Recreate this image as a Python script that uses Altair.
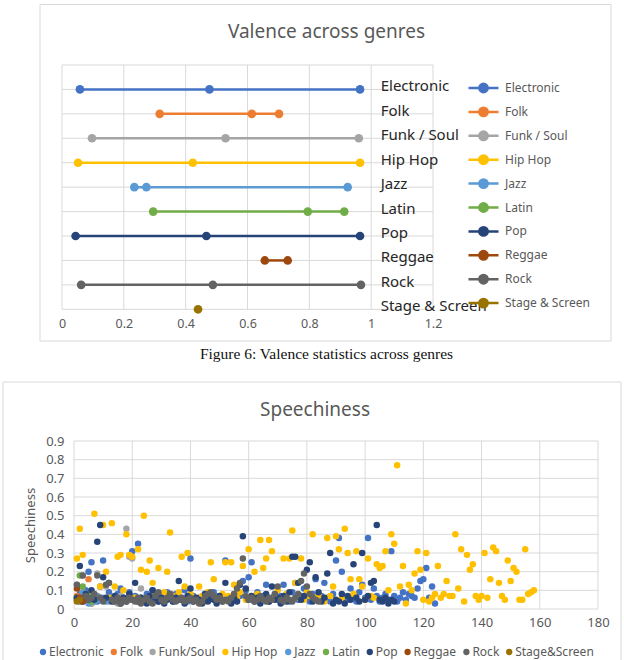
import altair as alt
import pandas as pd

# ---------------- data: valence chart ----------------
genres_top = ["Electronic", "Folk", "Funk / Soul", "Hip Hop", "Jazz", "Latin",
              "Pop", "Reggae", "Rock", "Stage & Screen"]
genres_bottom = ["Electronic", "Folk", "Funk/Soul", "Hip Hop", "Jazz", "Latin",
                 "Pop", "Reggae", "Rock", "Stage&Screen"]
genre_colors = ["#4472C4", "#ED7D31", "#A5A5A5", "#FFC000", "#5B9BD5",
                "#70AD47", "#264478", "#9E480E", "#636363", "#997300"]

val_electronic = [0.058, 0.477, 0.964]
val_folk = [0.316, 0.614, 0.702]
val_funk_soul = [0.097, 0.529, 0.960]
val_hip_hop = [0.052, 0.423, 0.964]
val_jazz = [0.234, 0.273, 0.924]
val_latin = [0.295, 0.795, 0.913]
val_pop = [0.044, 0.467, 0.964]
val_reggae = [0.656, 0.730]
val_rock = [0.062, 0.488, 0.967]
val_stage_screen = [0.440]

valence_ticks = [0, 0.2, 0.4, 0.6, 0.8, 1, 1.2]
valence_rows = [0, 1, 2, 3, 4, 5, 6, 7, 8, 9, 10]

# ---------------- data: speechiness chart ----------------
sp_electronic = [0.05, 0.08, 0.06, 0.10, 0.20, 0.25, 0.07, 0.04, 0.12, 0.26,
                 0.05, 0.09, 0.06, 0.04, 0.08, 0.11, 0.06, 0.05, 0.09, 0.31,
                 0.07, 0.35, 0.06, 0.04, 0.08, 0.05, 0.10, 0.06, 0.04, 0.07,
                 0.05, 0.09, 0.06, 0.04, 0.08, 0.05, 0.06, 0.10, 0.04, 0.27,
                 0.07, 0.05, 0.06, 0.04, 0.08, 0.05, 0.06, 0.09, 0.04, 0.07,
                 0.05, 0.26, 0.06, 0.04, 0.08, 0.05, 0.07, 0.15, 0.10, 0.17,
                 0.25, 0.06, 0.09, 0.05, 0.07, 0.13, 0.04, 0.06, 0.08, 0.05,
                 0.07, 0.13, 0.06, 0.04, 0.09, 0.14, 0.05, 0.07, 0.11, 0.06,
                 0.04, 0.08, 0.16, 0.05, 0.07, 0.14, 0.06, 0.04, 0.08, 0.26,
                 0.38, 0.20, 0.06, 0.05, 0.11, 0.07, 0.04, 0.09, 0.13, 0.06,
                 0.38, 0.05, 0.11, 0.07, 0.04, 0.06, 0.08, 0.05, 0.31, 0.07,
                 0.04, 0.06, 0.09, 0.05, 0.08, 0.07, 0.06, 0.11, 0.15, 0.16,
                 0.22, 0.06, 0.12, 0.03]
sp_folk = [0.07, 0.05, 0.09, 0.06, 0.16, 0.03, 0.04]
sp_funk_soul = [0.13, 0.04, 0.18, 0.07, 0.05, 0.03, 0.04, 0.19, 0.06, 0.05,
                0.12, 0.04, 0.06, 0.05, 0.03, 0.07, 0.05, 0.43, 0.28, 0.27,
                0.06, 0.04, 0.11, 0.05, 0.04]
sp_hip_hop = [0.27, 0.43, 0.29, 0.06, 0.08, 0.05, 0.51, 0.07, 0.12, 0.45,
              0.20, 0.06, 0.46, 0.12, 0.28, 0.29, 0.10, 0.40, 0.29, 0.28,
              0.06, 0.32, 0.21, 0.50, 0.20, 0.26, 0.14, 0.08, 0.22, 0.05,
              0.09, 0.20, 0.41, 0.07, 0.05, 0.09, 0.28, 0.12, 0.30, 0.08,
              0.06, 0.05, 0.12, 0.07, 0.04, 0.09, 0.25, 0.16, 0.06, 0.05,
              0.08, 0.25, 0.07, 0.25, 0.13, 0.06, 0.09, 0.23, 0.05, 0.32,
              0.07, 0.20, 0.08, 0.37, 0.22, 0.27, 0.37, 0.31, 0.06, 0.10,
              0.05, 0.27, 0.08, 0.27, 0.42, 0.14, 0.06, 0.27, 0.05, 0.09,
              0.07, 0.40, 0.06, 0.08, 0.05, 0.04, 0.38, 0.07, 0.12, 0.39,
              0.32, 0.06, 0.43, 0.30, 0.16, 0.08, 0.31, 0.16, 0.12, 0.05,
              0.27, 0.07, 0.06, 0.24, 0.22, 0.23, 0.31, 0.10, 0.40, 0.35,
              0.77, 0.12, 0.23, 0.03, 0.13, 0.10, 0.19, 0.31, 0.21, 0.05,
              0.30, 0.04, 0.06, 0.08, 0.23, 0.06, 0.08, 0.15, 0.07, 0.07,
              0.40, 0.11, 0.32, 0.04, 0.29, 0.21, 0.24, 0.07, 0.05, 0.07,
              0.30, 0.06, 0.16, 0.33, 0.31, 0.14, 0.07, 0.05, 0.26, 0.15,
              0.22, 0.20, 0.05, 0.05, 0.32, 0.08, 0.09, 0.10]
sp_jazz = [0.05, 0.04, 0.09, 0.06, 0.03, 0.05, 0.04, 0.07, 0.05, 0.06, 0.04, 0.05]
sp_latin = [0.06, 0.18, 0.12, 0.05, 0.08, 0.04]
sp_pop = [0.06, 0.23, 0.04, 0.08, 0.05, 0.10, 0.05, 0.36, 0.45, 0.17,
          0.06, 0.14, 0.04, 0.07, 0.05, 0.03, 0.06, 0.04, 0.08, 0.05,
          0.14, 0.04, 0.06, 0.05, 0.03, 0.07, 0.10, 0.05, 0.04, 0.06,
          0.03, 0.05, 0.08, 0.04, 0.06, 0.15, 0.05, 0.03, 0.07, 0.11,
          0.04, 0.06, 0.05, 0.03, 0.08, 0.04, 0.06, 0.05, 0.03, 0.07,
          0.04, 0.14, 0.05, 0.03, 0.06, 0.04, 0.13, 0.39, 0.11, 0.05,
          0.07, 0.04, 0.06, 0.03, 0.05, 0.08, 0.04, 0.12, 0.05, 0.06,
          0.03, 0.07, 0.04, 0.09, 0.28, 0.28, 0.14, 0.05, 0.07, 0.21,
          0.25, 0.04, 0.17, 0.09, 0.04, 0.06, 0.19, 0.30, 0.03, 0.05,
          0.04, 0.08, 0.03, 0.07, 0.05, 0.24, 0.06, 0.04, 0.30, 0.05,
          0.07, 0.14, 0.15, 0.45, 0.05, 0.04, 0.06, 0.03, 0.05, 0.04]
sp_reggae = [0.11, 0.06, 0.04]
sp_rock = [0.13, 0.05, 0.18, 0.07, 0.05, 0.06, 0.08, 0.18, 0.06, 0.04,
           0.13, 0.14, 0.05, 0.04, 0.06, 0.03, 0.05, 0.04, 0.06, 0.05,
           0.04, 0.06, 0.03, 0.05, 0.06, 0.04, 0.03, 0.07, 0.09, 0.05,
           0.04, 0.06, 0.08, 0.05, 0.04, 0.05, 0.06, 0.04, 0.05, 0.06,
           0.04, 0.05, 0.03, 0.04, 0.07, 0.08, 0.09, 0.07, 0.05, 0.06,
           0.04, 0.05, 0.04, 0.06, 0.08, 0.11, 0.14, 0.27, 0.07, 0.05,
           0.06, 0.04, 0.05, 0.07, 0.05, 0.04, 0.06, 0.05, 0.08, 0.12,
           0.05, 0.04, 0.06, 0.05, 0.04, 0.06, 0.08, 0.15, 0.19, 0.12,
           0.08, 0.06, 0.05, 0.04]
sp_stage_screen = [0.04, 0.05]

speech_x_ticks = [0, 20, 40, 60, 80, 100, 120, 140, 160, 180]
speech_y_ticks = [0, 0.1, 0.2, 0.3, 0.4, 0.5, 0.6, 0.7, 0.8, 0.9]

# ---------------- tables ----------------
top_values = [val_electronic, val_folk, val_funk_soul, val_hip_hop, val_jazz,
              val_latin, val_pop, val_reggae, val_rock, val_stage_screen]
rows = []
for i, (g, vals) in enumerate(zip(genres_top, top_values)):
    for v in vals:
        rows.append({"genre": g, "valence": v, "row": 9 - i})
df_top = pd.DataFrame(rows)
df_top_labels = pd.DataFrame({"genre": genres_top, "row": [9 - i for i in range(len(genres_top))]})

bot_values = [sp_electronic, sp_folk, sp_funk_soul, sp_hip_hop, sp_jazz,
              sp_latin, sp_pop, sp_reggae, sp_rock, sp_stage_screen]
rows = []
for g, vals in zip(genres_bottom, bot_values):
    for j, v in enumerate(vals):
        rows.append({"genre": g, "idx": j + 1, "val": v})
df_bot = pd.DataFrame(rows)

one = pd.DataFrame({"k": [0]})

FONT = "Noto Sans"
GRID = "#D9D9D9"
TXT = "#595959"

# ---------------- top chart ----------------
xs_top = alt.Scale(domain=[0, 1.2], range=[62, 433], nice=False, zero=False)
ys_top = alt.Scale(domain=[0, 10], range=[309.3, 65], nice=False, zero=False)

ax_top_x = alt.Axis(orient="bottom", offset=-351, values=valence_ticks, format="~g",
                    grid=False, domain=False, ticks=False, tickSize=0, labelPadding=8,
                    labelFlush=False, labelFontSize=12.5, labelFont=FONT, labelColor=TXT,
                    title=None, zindex=1)

SYM = "M-1,0L1,0M-0.28,0A0.28,0.28,0,1,0,0.28,0A0.28,0.28,0,1,0,-0.28,0Z"
legend_top = alt.Legend(orient="none", legendX=467, legendY=80, direction="vertical",
                        title=None, symbolType=SYM, symbolSize=900, symbolStrokeWidth=2.5,
                        clipHeight=16, rowPadding=7.9, labelOffset=5, labelFont=FONT,
                        labelFontSize=12, labelColor=TXT, padding=0)

box_top = alt.Chart(one).mark_rect(fillOpacity=0, stroke=GRID, strokeWidth=1).encode(
    x=alt.value(40), x2=alt.value(611), y=alt.value(4.5), y2=alt.value(341))

vgrid_top = alt.Chart(pd.DataFrame({"v": valence_ticks})).mark_rule(color=GRID, strokeWidth=1).encode(
    x=alt.X("v:Q", scale=xs_top, axis=ax_top_x),
    y=alt.YDatum(0, axis=None), y2=alt.datum(10))

hgrid_top = alt.Chart(pd.DataFrame({"r": valence_rows})).mark_rule(color=GRID, strokeWidth=1).encode(
    y=alt.Y("r:Q", scale=ys_top, axis=None),
    x=alt.XDatum(0, axis=ax_top_x), x2=alt.datum(1.2))

points_top = alt.Chart(df_top).mark_circle(size=75, opacity=1).encode(
    x=alt.X("valence:Q", scale=xs_top, axis=ax_top_x),
    y=alt.Y("row:Q", scale=ys_top, axis=None),
    fill=alt.Fill("genre:N", scale=alt.Scale(domain=genres_top, range=genre_colors), legend=legend_top))

lines_top = alt.Chart(df_top).mark_line(strokeWidth=2.5).encode(
    x=alt.X("valence:Q", scale=xs_top, axis=ax_top_x),
    y=alt.Y("row:Q", scale=ys_top, axis=None),
    stroke=alt.Stroke("genre:N", scale=alt.Scale(domain=genres_top, range=genre_colors), legend=legend_top),
    order="valence:Q")

labels_top = alt.Chart(df_top_labels).mark_text(
    align="left", baseline="middle", dx=9.5, dy=-3, fontSize=15, font=FONT, color="#262626").encode(
    x=alt.XDatum(1, axis=ax_top_x), y=alt.Y("row:Q", axis=None), text="genre:N")

title_top = alt.Chart(pd.DataFrame({"t": ["Valence across genres"]})).mark_text(
    fontSize=19, font=FONT, color=TXT, align="center", baseline="middle").encode(
    x=alt.value(326.5), y=alt.value(32), text="t:N")

caption = alt.Chart(pd.DataFrame({"t": ["Figure 6: Valence statistics across genres"]})).mark_text(
    fontSize=15.5, font="Liberation Serif", color="#111111", align="center", baseline="middle").encode(
    x=alt.value(326.5), y=alt.value(354), text="t:N")

top = alt.layer(box_top, vgrid_top, hgrid_top, points_top, lines_top, labels_top, title_top, caption)

# ---------------- bottom chart ----------------
xs_bot = alt.Scale(domain=[0, 180], range=[74, 598], nice=False, zero=False)
ys_bot = alt.Scale(domain=[0, 0.9], range=[609, 441], nice=False, zero=False)

ax_bot_x = alt.Axis(orient="bottom", offset=-51, values=speech_x_ticks, grid=False,
                    domain=False, ticks=False, tickSize=0, labelPadding=7, labelFlush=False,
                    labelFontSize=13, labelFont=FONT, labelColor=TXT, title=None, zindex=1)
ax_bot_y = alt.Axis(orient="left", offset=-74, values=speech_y_ticks, format="~g", grid=False,
                    domain=False, ticks=False, tickSize=0, labelPadding=10, labelFlush=False,
                    labelFontSize=13, labelFont=FONT, labelColor=TXT,
                    title="Speechiness", titleFont=FONT, titleFontSize=13,
                    titleColor=TXT, titleFontWeight="normal", titlePadding=8, zindex=1)

legend_bot = alt.Legend(orient="none", legendX=37, legendY=645, direction="horizontal", columns=10,
                        title=None, symbolType="circle", symbolSize=40, symbolStrokeWidth=0,
                        clipHeight=14, labelOffset=0, columnPadding=3.8, labelFont=FONT,
                        labelFontSize=12, labelColor=TXT, padding=0)

box_bot = alt.Chart(one).mark_rect(fillOpacity=0, stroke=GRID, strokeWidth=1).encode(
    x=alt.value(3), x2=alt.value(621), y=alt.value(382), y2=alt.value(670))

vgrid_bot = alt.Chart(pd.DataFrame({"v": speech_x_ticks})).mark_rule(color=GRID, strokeWidth=1).encode(
    x=alt.X("v:Q", scale=xs_bot, axis=ax_bot_x),
    y=alt.YDatum(0, axis=ax_bot_y), y2=alt.datum(0.9))

hgrid_bot = alt.Chart(pd.DataFrame({"v": speech_y_ticks})).mark_rule(color=GRID, strokeWidth=1).encode(
    y=alt.Y("v:Q", scale=ys_bot, axis=ax_bot_y),
    x=alt.XDatum(0, axis=ax_bot_x), x2=alt.datum(180))

points_bot = alt.Chart(df_bot).mark_circle(size=42, opacity=1).encode(
    x=alt.X("idx:Q", scale=xs_bot, axis=ax_bot_x),
    y=alt.Y("val:Q", scale=ys_bot, axis=ax_bot_y),
    fill=alt.Fill("genre:N", scale=alt.Scale(domain=genres_bottom, range=genre_colors), legend=legend_bot))

title_bot = alt.Chart(pd.DataFrame({"t": ["Speechiness"]})).mark_text(
    fontSize=19, font=FONT, color=TXT, align="center", baseline="middle").encode(
    x=alt.value(315), y=alt.value(410), text="t:N")

bottom = alt.layer(box_bot, vgrid_bot, hgrid_bot, points_bot, title_bot)

chart = alt.layer(top, bottom).resolve_scale(
    x="independent", y="independent", fill="independent", stroke="independent"
).properties(
    width=624, height=660, padding=0, background="white",
    autosize=alt.AutoSizeParams(type="none")
).configure_view(stroke="transparent")

chart.save("out.html", embed_options={"renderer": "svg", "actions": False})
